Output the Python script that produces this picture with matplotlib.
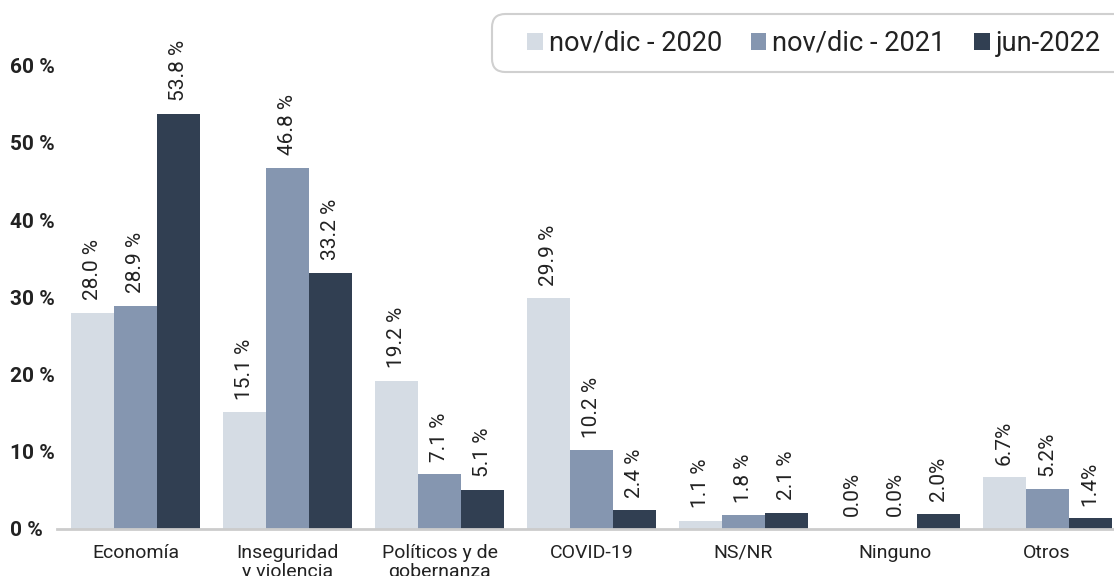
import matplotlib
matplotlib.use("Agg")
import matplotlib.pyplot as plt
from matplotlib.patches import FancyBboxPatch
import numpy as np

categories = ["Economía", "Inseguridad\ny violencia", "Políticos y de\ngobernanza",
              "COVID-19", "NS/NR", "Ninguno", "Otros"]
series_names = ["nov/dic - 2020", "nov/dic - 2021", "jun-2022"]
v2020 = [28.0, 15.1, 19.2, 29.9, 1.1, 0.0, 6.7]
v2021 = [28.9, 46.8, 7.1, 10.2, 1.8, 0.0, 5.2]
v2022 = [53.8, 33.2, 5.1, 2.4, 2.1, 2.0, 1.4]
labels2020 = ["28.0 %", "15.1 %", "19.2 %", "29.9 %", "1.1 %", "0.0%", "6.7%"]
labels2021 = ["28.9 %", "46.8 %", "7.1 %", "10.2 %", "1.8 %", "0.0%", "5.2%"]
labels2022 = ["53.8 %", "33.2 %", "5.1 %", "2.4 %", "2.1 %", "2.0%", "1.4%"]
yticks = [0, 10, 20, 30, 40, 50, 60]
ytick_labels = ["0 %", "10 %", "20 %", "30 %", "40 %", "50 %", "60 %"]

colors = ["#d5dce4", "#8596b0", "#313f52"]

plt.rcParams["font.family"] = ["Roboto", "DejaVu Sans"]

W, H = 1114, 576
fig = plt.figure(figsize=(W / 100, H / 100), dpi=100)
ax = fig.add_axes([57 / W, 1 - 529 / H, 1 - 57 / W, 529 / H])

x = np.arange(len(categories))
w = 0.283
all_vals = [v2020, v2021, v2022]
all_labels = [labels2020, labels2021, labels2022]
for i, (vals, labs) in enumerate(zip(all_vals, all_labels)):
    bars = ax.bar(x + (i - 1) * w, vals, w, color=colors[i], label=series_names[i],
                  edgecolor="none")
    for b, lab in zip(bars, labs):
        ax.annotate(lab, (b.get_x() + b.get_width() / 2, b.get_height()),
                    xytext=(0, 9), textcoords="offset points", rotation=90,
                    ha="center", va="bottom", fontsize=15, color="#222222")

ax.set_xlim(-0.518, 6.44)
ax.set_ylim(0, 68.5)
ax.set_xticks(x)
ax.set_xticklabels(categories, fontsize=14, color="#222222", linespacing=1.1)
ax.set_yticks(yticks)
ax.set_yticklabels(ytick_labels, fontsize=15, fontweight="bold", color="#222222")
ax.tick_params(axis="x", length=0, pad=10.5)
ax.tick_params(axis="y", length=0, pad=0)
for lab in ax.get_yticklabels():
    lab.set_horizontalalignment("left")
    lab.set_x(-57 / 1057 + 10 / 1057)
for s in ["top", "right", "left"]:
    ax.spines[s].set_visible(False)
ax.spines["bottom"].set_color("#cccccc")
ax.spines["bottom"].set_linewidth(2)

# legend frame (rounded, extends past right edge)
frame = FancyBboxPatch((492 / W, 1 - 72 / H), (1140 - 492) / W, 58 / H,
                       boxstyle="round,pad=0,rounding_size=0.012",
                       transform=fig.transFigure, facecolor="white",
                       edgecolor="#d0d0d0", linewidth=1.5, zorder=5,
                       mutation_aspect=W / H)
fig.patches.append(frame)

handles, lbls = ax.get_legend_handles_labels()
leg = fig.legend(handles, lbls, loc="center left",
                 bbox_to_anchor=(527 / W, 1 - 43.5 / H), bbox_transform=fig.transFigure,
                 borderaxespad=0, borderpad=0, ncol=3, frameon=False, fontsize=19.6,
                 handlelength=0.58, handleheight=0.58, handletextpad=0.22,
                 columnspacing=1.05)
leg.set_zorder(6)
for t in leg.get_texts():
    t.set_color("#222222")

fig.savefig("out.png", dpi=100)
